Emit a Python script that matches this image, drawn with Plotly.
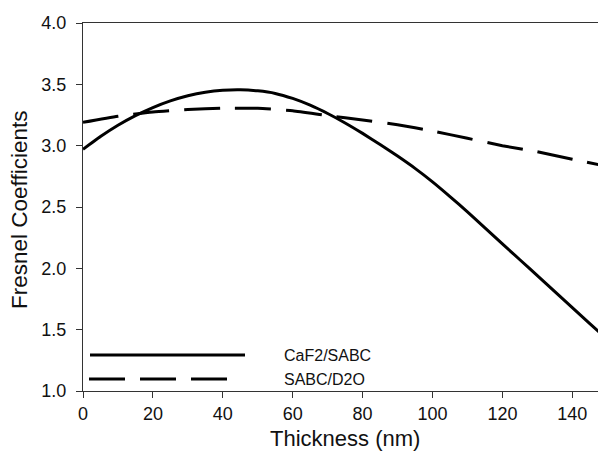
import plotly.graph_objects as go

# Data
thickness_solid = [0, 5, 10, 15, 20, 25, 30, 35, 40, 45, 50, 55, 60, 65, 70, 75,
                   80, 85, 90, 95, 100, 105, 110, 115, 120, 125, 130, 135, 140, 145, 150]
caf2_sabc = [2.97, 3.074, 3.166, 3.245, 3.311, 3.365, 3.407, 3.436, 3.452, 3.456, 3.447,
             3.426, 3.385, 3.33, 3.262, 3.185, 3.10, 3.01, 2.915, 2.815, 2.705, 2.585,
             2.46, 2.33, 2.20, 2.07, 1.94, 1.81, 1.68, 1.55, 1.42]

thickness_dash = [0, 10, 20, 30, 40, 50, 60, 70, 80, 90, 100, 110, 120, 130, 140, 150]
sabc_d2o = [3.19, 3.24, 3.275, 3.295, 3.305, 3.305, 3.285, 3.245, 3.21, 3.17, 3.12,
            3.06, 3.00, 2.95, 2.89, 2.83]

series_names = ["CaF2/SABC", "SABC/D2O"]
x_ticks = [0, 20, 40, 60, 80, 100, 120, 140]
y_ticks = [1.0, 1.5, 2.0, 2.5, 3.0, 3.5, 4.0]

FONT = "Liberation Sans, Arial, sans-serif"
DASH = "36px,15px"

fig = go.Figure()
fig.add_trace(go.Scatter(x=thickness_solid, y=caf2_sabc, mode="lines", name=series_names[0],
                         line=dict(color="black", width=3, shape="spline", smoothing=0.5)))
fig.add_trace(go.Scatter(x=thickness_dash, y=sabc_d2o, mode="lines", name=series_names[1],
                         line=dict(color="black", width=3, dash=DASH, shape="spline", smoothing=0.5)))

W, H = 598, 452
L, T, R = 83, 23, 0
ph = 368
B = H - T - ph
pw = W - L - R


def px(x_page):
    return (x_page - L) / pw


def py(y_page):
    return (H - B - y_page) / ph


# Legend drawn manually (long sample lines like the reference)
fig.add_shape(type="line", xref="paper", yref="paper", x0=px(90), x1=px(245), y0=py(355), y1=py(355),
              line=dict(color="black", width=3))
fig.add_shape(type="line", xref="paper", yref="paper", x0=px(89), x1=px(231), y0=py(379), y1=py(379),
              line=dict(color="black", width=3, dash=DASH))
fig.add_annotation(xref="paper", yref="paper", x=px(282), y=py(355), text=series_names[0],
                   showarrow=False, xanchor="left", yanchor="middle",
                   font=dict(family=FONT, size=16, color="#111"))
fig.add_annotation(xref="paper", yref="paper", x=px(282), y=py(379), text=series_names[1],
                   showarrow=False, xanchor="left", yanchor="middle",
                   font=dict(family=FONT, size=16, color="#111"))

# Axis titles
fig.add_annotation(xref="paper", yref="paper", x=px(345), y=py(438), text="Thickness (nm)",
                   showarrow=False, xanchor="center", yanchor="middle",
                   font=dict(family=FONT, size=22, color="#111"))
fig.add_annotation(xref="paper", yref="paper", x=px(19), y=py(210), text="Fresnel Coefficients",
                   showarrow=False, xanchor="center", yanchor="middle", textangle=-90,
                   font=dict(family=FONT, size=22.5, color="#111"))

fig.update_layout(
    width=W, height=H,
    margin=dict(l=L, r=R, t=T, b=B, pad=0),
    paper_bgcolor="white", plot_bgcolor="white",
    showlegend=False,
    hovermode=False,
    font=dict(family=FONT, size=18, color="#111"),
)
fig.update_xaxes(range=[0, pw / 3.495], tickmode="array", tickvals=x_ticks,
                 ticktext=[str(v) for v in x_ticks],
                 showgrid=False, zeroline=False, showline=True, linecolor="#333", linewidth=1,
                 mirror=True, ticks="outside", ticklen=6, tickcolor="#333", tickwidth=1,
                 tickfont=dict(family=FONT, size=18, color="#111"))
fig.update_yaxes(range=[1.0, 4.0], tickmode="array", tickvals=y_ticks,
                 ticktext=[f"{v:.1f}" for v in y_ticks],
                 showgrid=False, zeroline=False, showline=True, linecolor="#333", linewidth=1,
                 mirror=False, ticks="outside", ticklen=6, tickcolor="#333", tickwidth=1,
                 ticklabelstandoff=6,
                 tickfont=dict(family=FONT, size=18, color="#111"))

fig.write_html(
    "out.html",
    config={"displayModeBar": False},
    post_script="document.body.style.margin='0px';document.body.style.overflow='hidden';",
)
